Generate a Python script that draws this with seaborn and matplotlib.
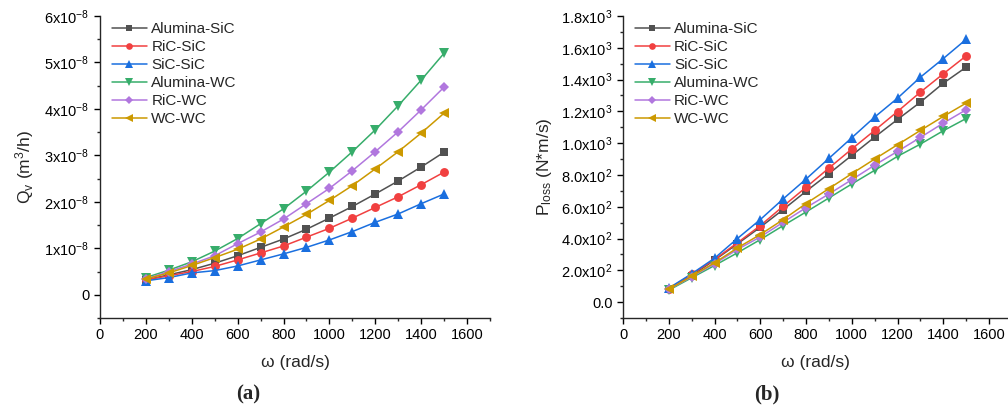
import numpy as np
import pandas as pd
import matplotlib.pyplot as plt
import seaborn as sns
from matplotlib.ticker import MultipleLocator, FixedLocator, FixedFormatter

# angular speed (rad/s)
omega = [200, 300, 400, 500, 600, 700, 800, 900, 1000, 1100, 1200, 1300, 1400, 1500]

pairs = ["Alumina-SiC", "RiC-SiC", "SiC-SiC", "Alumina-WC", "RiC-WC", "WC-WC"]

# (a) leakage rate Qv, in units of 1e-8 m3/h
qv_alumina_sic = [0.32, 0.43, 0.54, 0.68, 0.84, 1.02, 1.20, 1.41, 1.65, 1.90, 2.17, 2.45, 2.75, 3.07]
qv_ric_sic = [0.32, 0.41, 0.50, 0.61, 0.75, 0.90, 1.05, 1.24, 1.43, 1.65, 1.88, 2.11, 2.37, 2.64]
qv_sic_sic = [0.30, 0.37, 0.47, 0.52, 0.62, 0.75, 0.88, 1.02, 1.18, 1.36, 1.56, 1.74, 1.96, 2.17]
qv_alumina_wc = [0.37, 0.53, 0.71, 0.94, 1.21, 1.53, 1.85, 2.23, 2.64, 3.08, 3.55, 4.07, 4.62, 5.20]
qv_ric_wc = [0.34, 0.50, 0.66, 0.84, 1.10, 1.35, 1.63, 1.96, 2.29, 2.67, 3.08, 3.51, 3.98, 4.47]
qv_wc_wc = [0.34, 0.47, 0.63, 0.80, 0.98, 1.20, 1.46, 1.73, 2.03, 2.35, 2.71, 3.08, 3.48, 3.91]

# (b) power loss (N*m/s)
pl_alumina_sic = [84, 167, 264, 366, 471, 582, 697, 808, 923, 1038, 1149, 1258, 1377, 1478]
pl_ric_sic = [84, 174, 268, 373, 481, 603, 722, 843, 963, 1080, 1199, 1321, 1436, 1549]
pl_sic_sic = [88, 178, 276, 400, 519, 649, 774, 904, 1034, 1164, 1283, 1415, 1532, 1653]
pl_alumina_wc = [75, 153, 230, 310, 393, 481, 567, 655, 743, 829, 917, 994, 1078, 1155]
pl_ric_wc = [80, 159, 241, 331, 410, 502, 594, 680, 770, 862, 948, 1036, 1126, 1210]
pl_wc_wc = [80, 163, 247, 341, 425, 519, 620, 714, 808, 900, 990, 1080, 1168, 1252]

qv_series = [qv_alumina_sic, qv_ric_sic, qv_sic_sic, qv_alumina_wc, qv_ric_wc, qv_wc_wc]
pl_series = [pl_alumina_sic, pl_ric_sic, pl_sic_sic, pl_alumina_wc, pl_ric_wc, pl_wc_wc]

colors = ["#515151", "#F14040", "#1A6FDF", "#37AD6B", "#B177DE", "#CC9900"]
markers = ["s", "o", "^", "v", "D", "<"]
msizes = [5.8, 6.4, 7.2, 7.2, 5.6, 7.2]

rows = []
for name, qv, pl in zip(pairs, qv_series, pl_series):
    for w, q, p in zip(omega, qv, pl):
        rows.append({"omega": w, "pair": name, "Qv": q * 1e-8, "Ploss": p})
df = pd.DataFrame(rows)

sns.set_style("ticks")
plt.rcParams["font.family"] = ["Liberation Sans", "DejaVu Sans"]
plt.rcParams["mathtext.fontset"] = "custom"
plt.rcParams["mathtext.rm"] = "Liberation Sans"
plt.rcParams["mathtext.it"] = "Liberation Sans:italic"
plt.rcParams["axes.linewidth"] = 1.0

fig = plt.figure(figsize=(10.08, 4.12), dpi=100)
ax1 = fig.add_axes([100 / 1008, 94 / 412, 390 / 1008, 302 / 412])
ax2 = fig.add_axes([623 / 1008, 94 / 412, 385 / 1008, 302 / 412])

for ax, col in [(ax1, "Qv"), (ax2, "Ploss")]:
    for name, c, m, ms in zip(pairs, colors, markers, msizes):
        sns.lineplot(
            data=df[df["pair"] == name],
            x="omega",
            y=col,
            color=c,
            marker=m,
            markersize=ms,
            markeredgewidth=0,
            linewidth=1.1,
            label=name,
            ax=ax,
        )
    ax.legend(
        loc="upper left",
        bbox_to_anchor=(0.014, 1.0),
        frameon=False,
        fontsize=11,
        markerscale=0.75,
        handlelength=2.3,
        handletextpad=0.3,
        labelspacing=0.26,
        borderpad=0.3,
        borderaxespad=0.1,
    )
    sns.despine(ax=ax)
    ax.set_xlim(0, 1700)
    ax.xaxis.set_major_locator(MultipleLocator(200))
    ax.xaxis.set_minor_locator(MultipleLocator(100))
    ax.set_xlabel("ω (rad/s)", fontsize=12.5, labelpad=9)
    ax.tick_params(which="major", length=4, width=1, labelsize=10.5, colors="black")
    ax.tick_params(which="minor", length=2, width=1)

ax2.set_xlim(0, 1683)

# left panel y axis
ax1.set_ylim(-0.5e-8, 6e-8)
q_ticks = [0, 1e-8, 2e-8, 3e-8, 4e-8, 5e-8, 6e-8]
q_labels = ["0"] + [f"{k}x10$^{{\\mathregular{{-8}}}}$" for k in range(1, 7)]
ax1.yaxis.set_major_locator(FixedLocator(q_ticks))
ax1.yaxis.set_major_formatter(FixedFormatter(q_labels))
ax1.yaxis.set_minor_locator(MultipleLocator(0.5e-8))
ax1.set_ylabel(r"Q$_\mathregular{v}$ (m$^\mathregular{3}$/h)", fontsize=12.5, labelpad=6)

# right panel y axis
ax2.set_ylim(-100, 1800)
p_ticks = [0, 200, 400, 600, 800, 1000, 1200, 1400, 1600, 1800]
p_labels = ["0.0"]
for v in p_ticks[1:]:
    e = int(np.floor(np.log10(v)))
    p_labels.append(f"{v / 10**e:.1f}x10$^\\mathregular{{{e}}}$")
ax2.yaxis.set_major_locator(FixedLocator(p_ticks))
ax2.yaxis.set_major_formatter(FixedFormatter(p_labels))
ax2.yaxis.set_minor_locator(MultipleLocator(100))
ax2.set_ylabel(r"P$_\mathregular{loss}$ (N*m/s)", fontsize=12.5, labelpad=5)

fig.text(248 / 1008, 1 - 394 / 412, "(a)", ha="center", va="center",
         fontsize=15, fontweight="bold", family="Liberation Serif")
fig.text(767 / 1008, 1 - 394 / 412, "(b)", ha="center", va="center",
         fontsize=15, fontweight="bold", family="Liberation Serif")

plt.savefig("out.png", dpi=100)
plt.close()
